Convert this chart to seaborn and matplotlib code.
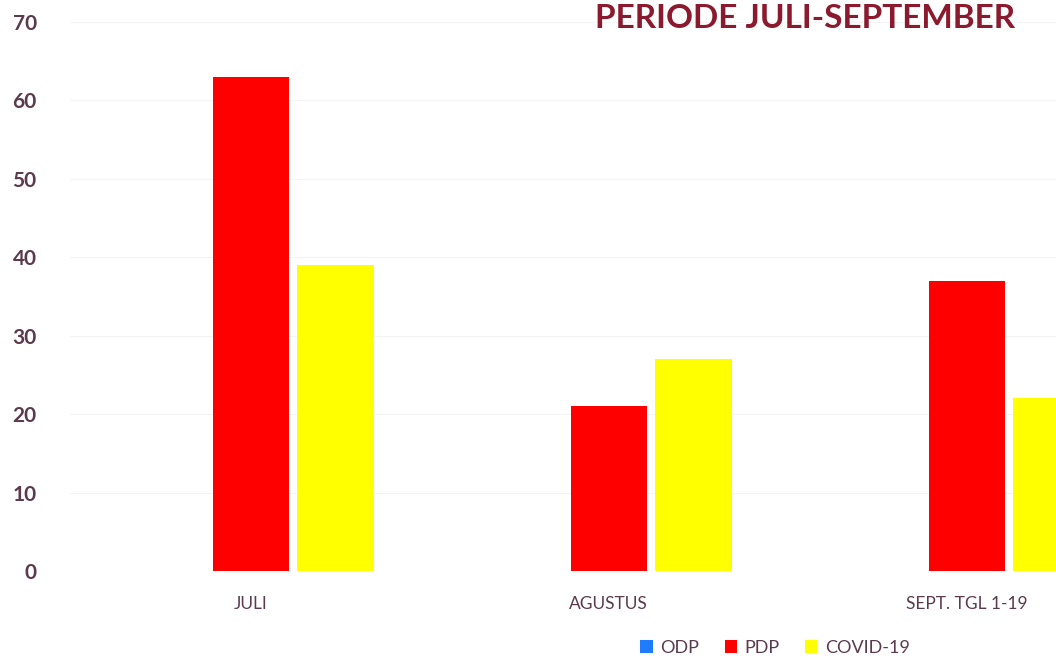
import matplotlib
matplotlib.use("Agg")
import matplotlib.pyplot as plt
import pandas as pd
import seaborn as sns

months = ["JULI", "AGUSTUS", "SEPT. TGL 1-19"]
series = ["ODP", "PDP", "COVID-19"]
odp = [0, 0, 0]
pdp = [63, 21, 37]
covid = [39, 27, 22]
colors = ["#1f7bff", "#ff0000", "#ffff00"]
text_color = "#5b3a4e"

df = pd.DataFrame({
    "bulan": months * 3,
    "kategori": [s for s in series for _ in months],
    "jumlah": odp + pdp + covid,
})

sns.set_theme(style="white")
plt.rcParams["font.family"] = ["Lato", "DejaVu Sans"]

fig = plt.figure(figsize=(10.56, 6.62), dpi=100)
ax = fig.add_axes([70 / 1056, 91 / 662, 1 - 70 / 1056, 549 / 662])

sns.barplot(data=df, x="bulan", y="jumlah", hue="kategori", order=months,
            hue_order=series, palette=colors, width=0.71, gap=0.1,
            saturation=1, linewidth=0, ax=ax)

ax.set_xlim(-0.505, 2.249)
ax.set_ylim(0, 70)
ax.set_yticks(range(0, 71, 10))
ax.yaxis.grid(True, color="#f4f4f4", linewidth=0.8)
ax.set_axisbelow(True)
for side in ax.spines.values():
    side.set_visible(False)
ax.set_xlabel("")
ax.set_ylabel("")
ax.tick_params(axis="y", labelsize=15, labelcolor=text_color, pad=24, length=0)
ax.tick_params(axis="x", labelsize=12.5, labelcolor=text_color, pad=18, length=0)
for lab in ax.get_yticklabels():
    lab.set_fontweight("bold")

sns.move_legend(ax, "center", bbox_to_anchor=(775 / 1056, 14 / 662),
                bbox_transform=fig.transFigure, ncol=3, frameon=False,
                title=None, fontsize=13, handlelength=0.7, handleheight=0.7,
                handletextpad=0.4, columnspacing=1.4)
for t in ax.get_legend().get_texts():
    t.set_color(text_color)

fig.text(1015 / 1056, 1 - 28 / 662, "PERIODE JULI-SEPTEMBER", ha="right",
         va="baseline", fontsize=24, fontweight="bold", color="#8b1a2e")

fig.savefig("out.png", dpi=100)
